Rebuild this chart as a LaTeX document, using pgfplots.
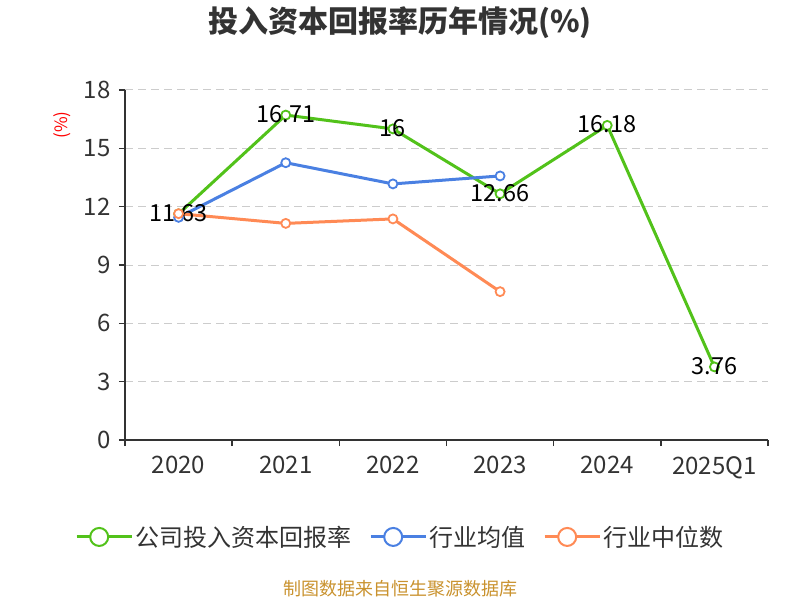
\documentclass[border=0pt]{standalone}
\usepackage{fontspec}
\setmainfont{Noto Sans CJK SC}
\usepackage{pgfplots}
\pgfplotsset{compat=1.18}
\definecolor{cgreen}{RGB}{82,194,26}
\definecolor{cblue}{RGB}{74,128,226}
\definecolor{corange}{RGB}{255,138,85}
\definecolor{axc}{RGB}{51,51,51}
\definecolor{gridc}{RGB}{204,204,204}
\definecolor{srcc}{RGB}{201,146,46}
\begin{document}
\begin{tikzpicture}[x=1pt,y=1pt]
\path[use as bounding box] (0,0) rectangle (800,600);
\begin{axis}[
  at={(125pt,160pt)}, anchor=south west,
  width=643pt, height=350pt, scale only axis,
  xmin=-0.5, xmax=5.5, ymin=0, ymax=18,
  axis x line*=bottom, axis y line*=left,
  axis line style={axc, line width=1.5pt},
  xtick={0,...,5}, xticklabels={2020,2021,2022,2023,2024,2025Q1},
  minor xtick={-0.5,0.5,...,5.5},
  ytick={0,3,...,18},
  tick align=outside,
  major tick length=6pt, minor tick length=6pt,
  major x tick style={draw=none},
  tick style={axc, line width=1.5pt},
  ymajorgrids, grid style={gridc, dash pattern=on 8pt off 5pt, line width=1pt},
  /pgf/number format/assume math mode=true,
  xticklabel style={font=\fontsize{24}{28}\selectfont, text=axc, yshift=-7pt},
  yticklabel style={font=\fontsize{24}{28}\selectfont, text=axc, xshift=-5pt},
  title={投入资本回报率历年情况(\%)},
  title style={at={(0.428,1.174)}, anchor=center, font=\fontsize{30}{34}\selectfont\bfseries, text=axc},
  ylabel={(\%)},
  ylabel style={at={(-0.098,0.90)}, anchor=center, font=\fontsize{17}{19}\selectfont, text=red},
  legend columns=3,
  legend style={at={(0.428,-0.277)}, anchor=center, draw=none, fill=none,
    font=\fontsize{24}{28}\selectfont, text=axc,
    /tikz/every even column/.append style={column sep=16pt}},
  legend image code/.code={
    \path (0pt,0pt) -- (55pt,0pt);
    \draw[line width=2pt] (0pt,0pt) -- (45pt,0pt);
    \draw[line width=2pt, fill=white] (22.5pt,0pt) circle (9pt);
  },
  every axis plot/.append style={line width=3pt, mark=*, mark size=4.5pt,
    mark options={fill=white, line width=1.8pt}},
]
\addplot[cgreen, nodes near coords, every node near coord/.append style={anchor=center, yshift=1pt, text=black, font=\fontsize{23.5}{27}\selectfont}]
  coordinates {(0,11.63) (1,16.71) (2,16) (3,12.66) (4,16.18) (5,3.76)};
\addlegendentry{公司投入资本回报率}
\addplot[cblue] coordinates {(0,11.45) (1,14.26) (2,13.17) (3,13.58)};
\addlegendentry{行业均值}
\addplot[corange] coordinates {(0,11.64) (1,11.14) (2,11.37) (3,7.63)};
\addlegendentry{行业中位数}
\end{axis}
\node[text=srcc, font=\fontsize{18}{20}\selectfont] at (400,11) {制图数据来自恒生聚源数据库};
\end{tikzpicture}
\end{document}
